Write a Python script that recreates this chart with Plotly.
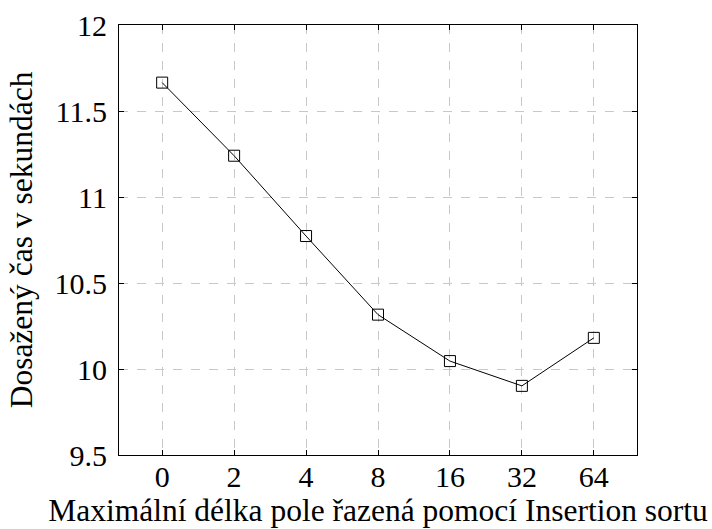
import plotly.graph_objects as go

categories = ["0", "2", "4", "8", "16", "32", "64"]
times = [11.665, 11.24, 10.773, 10.316, 10.046, 9.902, 10.181]
y_ticks = [9.5, 10, 10.5, 11, 11.5, 12]
y_ticktext = ["9.5", "10", "10.5", "11", "11.5", "12"]

FONT = "'Liberation Serif', 'Times New Roman', Times, serif"
TICK_FS = 30
TITLE_FS = 31.5

fig = go.Figure()
fig.add_trace(go.Scatter(
    x=categories, y=times, mode="lines+markers",
    line=dict(color="black", width=1),
    marker=dict(symbol="square-open", size=11, color="black", line=dict(width=1, color="black")),
    showlegend=False,
))

fig.update_layout(
    template="none",
    width=712, height=529,
    margin=dict(l=119, r=75, t=25, b=74, autoexpand=False),
    plot_bgcolor="white", paper_bgcolor="white",
    font=dict(family=FONT, size=TICK_FS, color="black"),
    xaxis=dict(
        type="category", range=[-0.6, 6.6], automargin=False,
        showline=True, linecolor="black", linewidth=1, mirror="allticks",
        ticks="inside", ticklen=5, tickcolor="black",
        showgrid=True, gridcolor="#c8c8c8", griddash="dash", gridwidth=1,
        tickfont=dict(family=FONT, size=TICK_FS),
        ticklabelstandoff=-5,
        title=dict(text="Maximální délka pole řazená pomocí Insertion sortu",
                   font=dict(family=FONT, size=TITLE_FS), standoff=5),
        zeroline=False,
    ),
    yaxis=dict(
        range=[9.5, 12], tickvals=y_ticks, ticktext=y_ticktext, automargin=False,
        showline=True, linecolor="black", linewidth=1, mirror="allticks",
        ticks="inside", ticklen=5, tickcolor="black",
        showgrid=True, gridcolor="#c8c8c8", griddash="dash", gridwidth=1,
        tickfont=dict(family=FONT, size=TICK_FS),
        ticklabelstandoff=5,
        title=dict(text="Dosažený čas v sekundách", font=dict(family=FONT, size=TITLE_FS), standoff=12),
        zeroline=False,
    ),
)

fig.write_html("out.html")
